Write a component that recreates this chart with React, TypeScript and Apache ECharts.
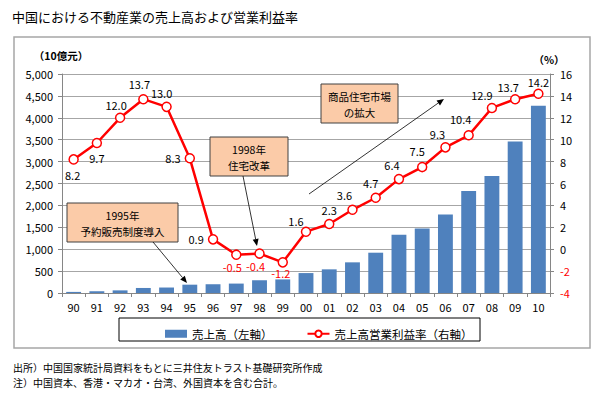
import React, { useEffect, useRef } from "react";
import * as echarts from "echarts";

const years = ["90","91","92","93","94","95","96","97","98","99","00","01","02","03","04","05","06","07","08","09","10"];
const sales = [25, 40, 60, 115, 125, 190, 200, 215, 290, 310, 455, 540, 700, 920, 1330, 1470, 1790, 2330, 2670, 3460, 4275];
const margin = [8.2, 9.7, 12.0, 13.7, 13.0, 8.3, 0.9, -0.5, -0.4, -1.2, 1.6, 2.3, 3.6, 4.7, 6.4, 7.5, 9.3, 10.4, 12.9, 13.7, 14.2];
const leftTicks = { min: 0, max: 5000, interval: 500 };
const rightTicks = { min: -4, max: 16, interval: 2 };
const salesName = "売上高（左軸）";
const marginName = "売上高営業利益率（右軸）";
const title = "中国における不動産業の売上高および営業利益率";
const note1 = "出所）中国国家統計局資料をもとに三井住友トラスト基礎研究所作成";
const note2 = "注）中国資本、香港・マカオ・台湾、外国資本を含む合計。";
const ann1 = "1995年\n予約販売制度導入";
const ann2 = "1998年\n住宅改革";
const ann3 = "商品住宅市場\nの拡大";

// label placement per point: [position, dx, dy]
const labelPlace: [string, number, number][] = [
  ["bottom", -1, 1], ["bottom", 0, 0], ["top", -4, 2], ["top", -4, 0], ["top", -5, 1],
  ["left", 0, 0], ["left", 0, 0], ["bottom", -4, -2], ["bottom", -4, -2], ["bottom", -2, -4],
  ["top", -10, 4], ["top", 0, 1], ["top", -8, 0], ["top", -5, 0], ["top", -7, 1],
  ["top", -5, -1], ["top", -8, 1], ["top", -8, -2], ["top", -10, 2], ["top", -7, 3], ["top", 0, 3]
];

const FONT = "'Noto Sans CJK JP', 'Noto Sans', sans-serif";

export default function App() {
  const ref = useRef<HTMLDivElement>(null);
  useEffect(() => {
    const chart = echarts.init(ref.current!, null, { renderer: "svg" });
    const boxStyle = { fill: "#FBCBA8", stroke: "#404040", lineWidth: 1 };
    const annText = (x: number, y: number, t: string) => ({
      type: "text", x, y,
      style: { text: t, fill: "#000", font: `10.5px ${FONT}`, textAlign: "center", textVerticalAlign: "middle", lineHeight: 16 }
    });
    const arrow = (x1: number, y1: number, x2: number, y2: number) => {
      const ang = Math.atan2(y2 - y1, x2 - x1);
      const L = 7, W = 3;
      const bx = x2 - L * Math.cos(ang), by = y2 - L * Math.sin(ang);
      const px = -Math.sin(ang) * W, py = Math.cos(ang) * W;
      return [
        { type: "line", shape: { x1, y1, x2: bx, y2: by }, style: { stroke: "#000", lineWidth: 0.8 } },
        { type: "polygon", shape: { points: [[x2, y2], [bx + px, by + py], [bx - px, by - py]] }, style: { fill: "#000" } }
      ];
    };
    const option: any = {
      animation: false,
      backgroundColor: "#fff",
      textStyle: { fontFamily: FONT },
      grid: { left: 62, right: 53, top: 74, bottom: 102, containLabel: false },
      legend: {
        left: 160, top: 323, itemWidth: 22, itemHeight: 8, itemGap: 34,
        textStyle: { fontSize: 11.5, color: "#000", fontFamily: FONT },
        data: [
          { name: salesName, icon: "rect" },
          { name: marginName }
        ]
      },
      xAxis: {
        type: "category", data: years, boundaryGap: true,
        axisLine: { lineStyle: { color: "#868686" } },
        axisTick: { show: true, lineStyle: { color: "#868686" }, length: 4 },
        axisLabel: { color: "#000", fontSize: 11, margin: 8, fontFamily: FONT }
      },
      yAxis: [
        {
          type: "value", ...leftTicks,
          axisLine: { show: true, lineStyle: { color: "#868686" } },
          axisTick: { show: true, inside: false, length: 4, lineStyle: { color: "#868686" } },
          splitLine: { lineStyle: { color: "#A6A6A6", width: 1.2 } },
          axisLabel: {
            color: "#000", fontSize: 11, margin: 9, fontFamily: FONT,
            formatter: (v: number) => v.toLocaleString("en-US")
          }
        },
        {
          type: "value", ...rightTicks,
          axisLine: { show: true, lineStyle: { color: "#868686" } },
          axisTick: { show: true, length: 4, lineStyle: { color: "#868686" } },
          splitLine: { show: false },
          axisLabel: {
            fontSize: 11, margin: 10, fontFamily: FONT,
            formatter: (v: number) => (v < 0 ? `{r|${v}}` : `{b|${v}}`),
            rich: { r: { color: "#FF0000", fontSize: 11 }, b: { color: "#000", fontSize: 11 } }
          }
        }
      ],
      series: [
        {
          name: salesName, type: "bar", data: sales, yAxisIndex: 0,
          barCategoryGap: "36%",
          itemStyle: { color: "#4F81BD" }
        },
        {
          name: marginName, type: "line", yAxisIndex: 1,
          data: margin.map((v, i) => ({
            value: v,
            label: {
              position: labelPlace[i][0],
              offset: [labelPlace[i][1], labelPlace[i][2]],
              color: v < 0 ? "#FF0000" : "#000"
            }
          })),
          lineStyle: { color: "#FF0000", width: 2.5 },
          itemStyle: { color: "#fff", borderColor: "#FF0000", borderWidth: 1.5 },
          symbol: "circle", symbolSize: 9, showAllSymbol: true,
          label: { show: true, fontSize: 11, distance: 4, fontFamily: FONT, formatter: (p: any) => p.value.toFixed(1) },
          z: 5
        }
      ],
      graphic: [
        { type: "rect", shape: { x: 14, y: 37, width: 576, height: 311 }, style: { fill: "none", stroke: "#A6A6A6", lineWidth: 1.5 }, z: -1, silent: true },
        { type: "rect", shape: { x: 119, y: 318, width: 361, height: 23 }, style: { fill: "none", stroke: "#000", lineWidth: 1 }, z: -1 },
        { type: "text", x: 12, y: 16, style: { text: title, fill: "#000", font: `13px ${FONT}`, textVerticalAlign: "middle" } },
        { type: "text", x: 61, y: 55, style: { text: "（10億元）", fill: "#000", font: `bold 10.5px ${FONT}`, textAlign: "center", textVerticalAlign: "middle" } },
        { type: "text", x: 549, y: 59, style: { text: "（%）", fill: "#000", font: `bold 10.5px ${FONT}`, textAlign: "center", textVerticalAlign: "middle" } },
        { type: "text", x: 13, y: 367, style: { text: note1, fill: "#000", font: `10px ${FONT}`, textVerticalAlign: "middle" } },
        { type: "text", x: 13, y: 382, style: { text: note2, fill: "#000", font: `10px ${FONT}`, textVerticalAlign: "middle" } },
        { type: "rect", shape: { x: 67, y: 203, width: 111, height: 39 }, style: boxStyle, z: 10 },
        { ...annText(122.5, 223, ann1), z: 11 },
        { type: "rect", shape: { x: 210, y: 137, width: 78, height: 39 }, style: boxStyle, z: 10 },
        { ...annText(249, 157, ann2), z: 11 },
        { type: "rect", shape: { x: 321, y: 84, width: 77, height: 39 }, style: boxStyle, z: 10 },
        { ...annText(359.5, 104, ann3), z: 11 },
        ...arrow(153, 242, 187, 283).map((e) => ({ ...e, z: 10 })),
        ...arrow(243, 176, 257, 246).map((e) => ({ ...e, z: 10 })),
        ...arrow(309, 194, 444, 99).map((e) => ({ ...e, z: 10 }))
      ]
    };
    chart.setOption(option);
    return () => chart.dispose();
  }, []);
  return (
    <div
      ref={ref}
      style={{ position: "fixed", left: 0, top: 0, width: 603, height: 395, background: "#fff" }}
    />
  );
}
